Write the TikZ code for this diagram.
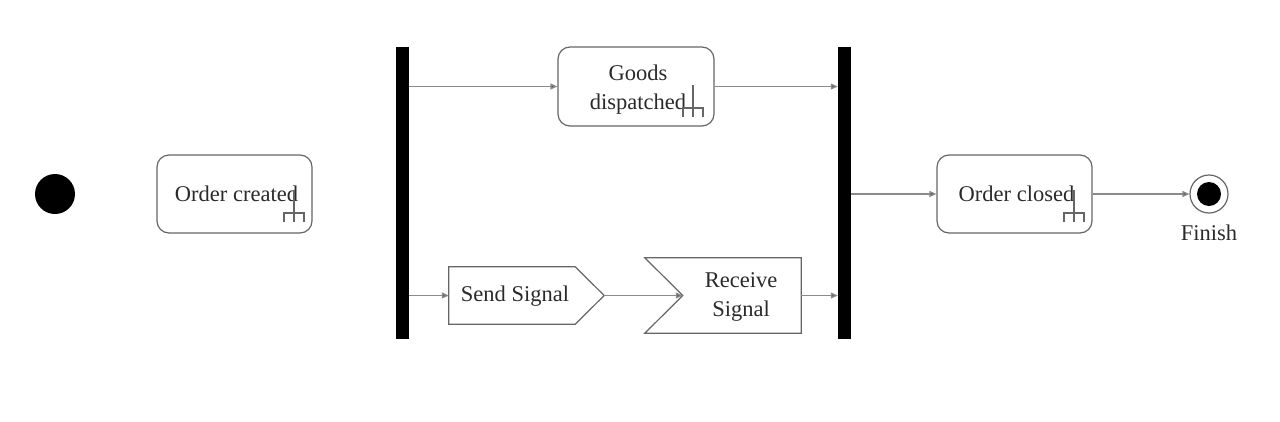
\documentclass[tikz,border=0pt]{standalone}
\usepackage{fontspec}
\setmainfont{Liberation Serif}
\usetikzlibrary{arrows.meta,calc}
\definecolor{boxline}{HTML}{666666}
\definecolor{conline}{HTML}{8A8A8A}
\definecolor{txt}{HTML}{2A2A2A}
\tikzset{
  txtstyle/.style={font=\fontsize{22.5}{29}\selectfont, text=txt, align=center, inner sep=0pt},
  actbox/.style={draw=boxline, line width=1.2pt, rounded corners=12pt, minimum width=155pt, minimum height=78pt, inner sep=0pt},
  barbox/.style={fill=black, draw=none, minimum width=13pt, minimum height=292pt, inner sep=0pt},
  plainbox/.style={draw=none, inner sep=0pt},
  sigline/.style={draw=boxline, line width=1.2pt},
  conn/.style={draw=conline, line width=1.2pt, -{Triangle[length=7pt,width=6pt,fill=boxline]}},
  rakestyle/.style={draw=boxline, line width=1.1pt},
  rake/.pic={\draw[rakestyle] (0,-23) -- (0,9) (-10,9) -- (-10,0) -- (10,0) -- (10,9);}
}
\begin{document}
\begin{tikzpicture}[x=1pt,y=-1pt]
\useasboundingbox (0,0) rectangle (1280,421);
% initial node
\node[circle, fill=black, minimum size=40pt, inner sep=0pt] (init) at (55,194) {};
% Order created
\node[actbox] (oc) at (234.5,194) {};
\node[txtstyle] (octxt) at (236.5,194) {Order created};
\pic at (294,213) {rake};
% fork bars
\node[barbox] (bar1) at (402.5,193) {};
\node[barbox] (bar2) at (844.5,193) {};
% Goods dispatched
\node[actbox, minimum width=156pt, minimum height=79pt] (gd) at (636,86.5) {};
\node[txtstyle] (gdtxt) at (638,90) {Goods\\dispatched};
\pic at (693,108) {rake};
% Send signal
\node[plainbox, minimum width=126pt, minimum height=57pt] (ss) at (512,295.5) {};
\coordinate (sstip) at ($(ss.east)+(29,0)$);
\draw[sigline] (ss.north west) -- (ss.north east) -- (sstip) -- (ss.south east) -- (ss.south west) -- cycle;
\node[txtstyle] (sstxt) at (515,296) {Send Signal};
% Receive signal
\node[plainbox, minimum width=156pt, minimum height=75pt] (rs) at (723,295.5) {};
\coordinate (rsnotch) at ($(rs.west)+(38,0)$);
\draw[sigline] (rs.north west) -- (rs.north east) -- (rs.south east) -- (rs.south west) -- (rsnotch) -- cycle;
\node[txtstyle] (rstxt) at (741,297) {Receive\\Signal};
% Order closed
\node[actbox] (ocl) at (1014.5,194) {};
\node[txtstyle] (ocltxt) at (1016.5,194) {Order closed};
\pic at (1074,213) {rake};
% final node
\node[circle, draw=boxline, line width=1.2pt, fill=white, minimum size=38pt, inner sep=0pt] (final) at (1209,194) {};
\node[circle, fill=black, minimum size=24pt, inner sep=0pt] (finalin) at (final.center) {};
\node[txtstyle] (fin) at (1209,233) {Finish};
% connectors
\draw[conn] (bar1.east |- gd.west) -- (gd.west);
\draw[conn] (gd.east) -- (bar2.west |- gd.east);
\draw[conn] (bar1.east |- ss.west) -- (ss.west);
\draw[conn] (sstip) -- (rsnotch);
\draw[conn] (rs.east) -- (bar2.west |- rs.east);
\draw[conn] (bar2.east |- ocl.west) -- (ocl.west);
\draw[conn] (ocl.east) -- (final.west);
\end{tikzpicture}
\end{document}
